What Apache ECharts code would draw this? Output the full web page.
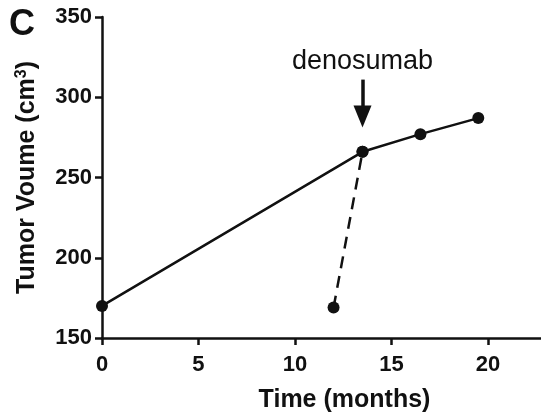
<!DOCTYPE html>
<html>
<head>
<meta charset="utf-8">
<script src="https://cdn.jsdelivr.net/npm/echarts@6/dist/echarts.min.js"></script>
<style>html,body{margin:0;padding:0;background:#fff}#c{width:541px;height:417px}</style>
</head>
<body>
<div id="c"></div>
<script>
// Data
const mainTimes = [0, 13.5, 16.5, 19.5];
const mainVolumes = [170, 266, 277, 287];
const dashedTimes = [12, 13.5];
const dashedVolumes = [169, 266];
const xTicks = [0, 5, 10, 15, 20];
const yTicks = [150, 200, 250, 300, 350];
const annotationText = 'denosumab';
const arrowTime = 13.5;
const arrowFrom = 311;
const arrowTo = 288;
const labelVolume = 322;

const ink = '#111';
const chart = echarts.init(document.getElementById('c'), null, {renderer: 'canvas'});
chart.setOption({
  animation: false,
  backgroundColor: '#fff',
  grid: {left: 102, right: 0, top: 17, bottom: 79, containLabel: false, outerBoundsMode: 'none'},
  graphic: [{
    type: 'text', left: 9, top: 7,
    style: {text: 'C', font: 'bold 36px "Liberation Sans", Arial, sans-serif', fill: ink}
  }],
  xAxis: {
    type: 'value', min: 0, max: 22.75, interval: 5,
    name: 'Time (months)', nameLocation: 'middle', nameGap: 50,
    nameTextStyle: {fontFamily: '"Liberation Sans", Arial', fontWeight: 'bold', fontSize: 25, color: ink, padding: [0, 0, 0, 46]},
    axisLine: {lineStyle: {color: ink, width: 2.5}},
    axisTick: {length: 7, customValues: xTicks, lineStyle: {color: ink, width: 2.5}},
    axisLabel: {margin: 16, customValues: xTicks, fontFamily: '"Liberation Sans", Arial', fontWeight: 'bold', fontSize: 22, color: ink},
    splitLine: {show: false}
  },
  yAxis: {
    type: 'value', min: 150, max: 350, interval: 50,
    name: 'Tumor Voume (cm{s|3})', nameLocation: 'middle', nameGap: 61,
    nameTextStyle: {fontFamily: '"Liberation Sans", Arial', fontWeight: 'bold', fontSize: 25, color: ink,
      rich: {s: {fontFamily: '"Liberation Sans", Arial', fontWeight: 'bold', fontSize: 16, color: ink, padding: [0, 0, 11, 0]}}},
    axisLine: {show: true, lineStyle: {color: ink, width: 2.5}},
    axisTick: {show: true, length: 7, customValues: yTicks, lineStyle: {color: ink, width: 2.5}},
    axisLabel: {margin: 10, customValues: yTicks, fontFamily: '"Liberation Sans", Arial', fontWeight: 'bold', fontSize: 22, color: ink},
    splitLine: {show: false}
  },
  series: [
    {
      type: 'line', data: dashedTimes.map((t, i) => [t, dashedVolumes[i]]),
      symbol: 'circle', symbolSize: 12, z: 2,
      lineStyle: {color: ink, width: 2.5, type: [12, 8]},
      itemStyle: {color: ink}
    },
    {
      type: 'line', data: mainTimes.map((t, i) => [t, mainVolumes[i]]),
      symbol: 'circle', symbolSize: 12, z: 3,
      lineStyle: {color: ink, width: 2.5},
      itemStyle: {color: ink},
      markLine: {
        silent: true, symbol: ['none', 'triangle'], symbolSize: [18, 22],
        lineStyle: {color: ink, width: 3.5, type: 'solid'},
        label: {show: false},
        data: [[{coord: [arrowTime, arrowFrom]}, {coord: [arrowTime, arrowTo]}]]
      },
      markPoint: {
        silent: true, symbol: 'circle', symbolSize: 0,
        label: {show: true, position: 'inside', formatter: annotationText, color: ink,
          fontFamily: '"Liberation Sans", Arial', fontSize: 27},
        data: [{coord: [arrowTime, labelVolume]}]
      }
    }
  ]
});
</script>
</body>
</html>
